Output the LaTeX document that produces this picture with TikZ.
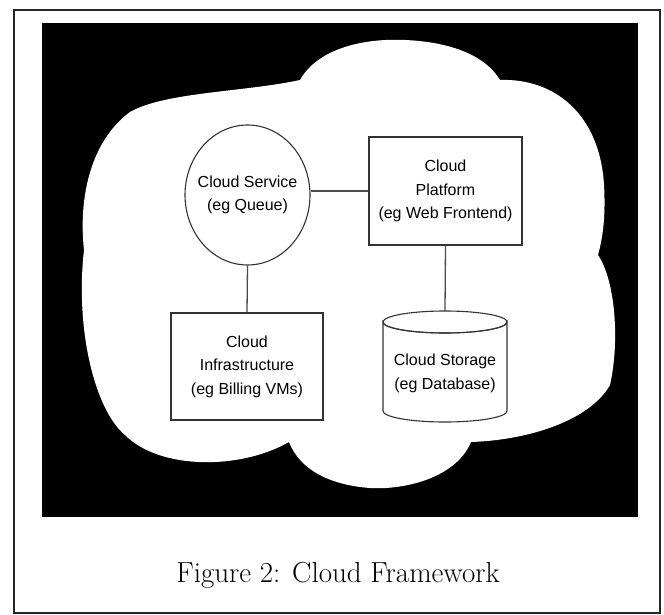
\documentclass[tikz,border=0pt]{standalone}
\usetikzlibrary{shapes.geometric}
\usepackage{fontspec}
\newfontfamily\boxfont{Liberation Sans}
\tikzset{
  part/.style={draw=black!80, line width=1.1pt, fill=white, align=center,
    font=\boxfont\fontsize{16}{23.5}\selectfont, inner sep=0pt},
  boxpart/.style={part, rectangle},
  link/.style={draw=black!70, line width=1.3pt},
}
\begin{document}
\begin{tikzpicture}[x=1pt,y=-1pt]
\useasboundingbox (0,0) rectangle (664,615);
% page frame
\draw[line width=2pt, black!85] (14,10) rectangle (660,613);
% black panel
\fill[black] (42,23) rectangle (638,517);
% cloud outline
\fill[white] (84,250)
  .. controls (78,195) and (92,140) .. (130,112)
  .. controls (165,92) and (245,92) .. (300,80)
  .. controls (318,48) and (365,38) .. (405,40)
  .. controls (450,42) and (485,55) .. (500,80)
  .. controls (555,78) and (600,115) .. (604,185)
  .. controls (606,220) and (602,240) .. (598,255)
  .. controls (615,280) and (620,340) .. (610,385)
  .. controls (590,420) and (530,440) .. (471,442)
  .. controls (455,480) and (400,490) .. (370,488)
  .. controls (330,485) and (300,470) .. (289,442)
  .. controls (240,470) and (160,470) .. (125,435)
  .. controls (95,410) and (75,330) .. (84,250) -- cycle;

% components
\node[part, ellipse, inner sep=-10pt, minimum width=125pt, minimum height=140pt] (svc) at (247.5,195)
  {Cloud Service\\(eg Queue)};
\node[boxpart, minimum width=153pt, minimum height=108pt] (plat) at (445.5,191)
  {Cloud\\Platform\\(eg Web Frontend)};
\node[boxpart, minimum width=152pt, minimum height=107pt] (infra) at (247,366.5)
  {Cloud\\Infrastructure\\(eg Billing VMs)};

% storage cylinder
\draw[draw=black!80, line width=1.1pt, fill=white]
  (383,322) -- (383,411) arc[start angle=180, end angle=360, x radius=62, y radius=-11]
  -- (507,322) arc[start angle=0, end angle=-180, x radius=62, y radius=-11] -- cycle;
\draw[draw=black!80, line width=1.1pt] (445,322) ellipse[x radius=62, y radius=11];
\coordinate (storetop) at (445,311);
\node[font=\boxfont\fontsize{16}{23.5}\selectfont, align=center, inner sep=0pt] (store) at (445,373.5)
  {Cloud Storage\\(eg Database)};

% connectors
\draw[link] (plat.west) -- (plat.west -| svc.east);
\draw[link] (svc.south) -- (infra.north);
\draw[link] (plat.south) -- (storetop);

% caption
\node[font=\fontsize{29}{34}\selectfont, anchor=base, inner sep=0pt] (cap) at (338,582) {Figure 2: Cloud Framework};
\end{tikzpicture}
\end{document}
